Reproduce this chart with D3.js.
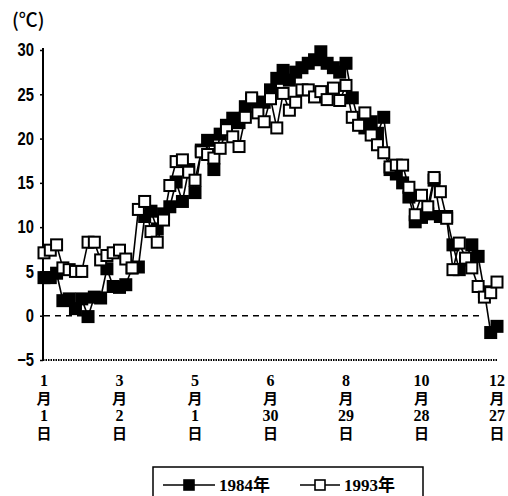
<!DOCTYPE html>
<html>
<head>
<meta charset="utf-8">
<script src="https://cdn.jsdelivr.net/npm/d3@7"></script>
<style>
  body { margin: 0; background: #fff; }
  svg { display: block; }
</style>
</head>
<body>
<div id="chart"></div>
<script>
// pentad index (every 5 days from Jan 1)
const series1984 = [4.3, 4.3, 4.8, 1.7, 1.9, 0.8, 1.9, -0.1, 2.1, 2.0,
  5.3, 3.3, 3.2, 3.5, 5.4, 5.5, 11.2, 11.8, 9.8, 11.5,
  12.3, 15.1, 12.9, 16.5, 13.9, 18.7, 19.8, 16.5, 20.5, 21.5,
  22.3, 21.8, 23.6, 24.4, 24.1, 24.1, 25.5, 26.8, 27.7, 26.6,
  27.5, 28.0, 28.5, 28.9, 29.8, 28.5, 28.0, 27.5, 28.5, 24.6,
  22.0, 21.2, 21.9, 20.6, 22.4, 16.5, 16.0, 15.0, 13.4, 10.6,
  11.1, 11.5, 15.3, 11.2, 11.2, 8.0, 5.2, 6.3, 8.0, 6.7,
  2.7, -1.9, -1.2];
const series1993 = [7.1, 7.4, 8.0, 5.4, 5.2, 5.0, 5.0, 8.3, 8.3, 6.3,
  6.8, 7.1, 7.4, 6.4, 5.4, 12.0, 12.9, 9.5, 8.3, 10.8,
  14.7, 17.4, 17.6, 16.2, 15.3, 18.5, 18.2, 17.8, 18.9, 21.0,
  20.2, 19.1, 22.4, 24.6, 22.9, 21.9, 24.5, 21.2, 25.1, 23.2,
  24.1, 25.5, 25.5, 24.7, 25.3, 24.4, 25.7, 24.3, 26.0, 22.4,
  21.5, 22.9, 20.4, 19.3, 18.4, 16.8, 17.0, 17.0, 14.5, 11.4,
  13.6, 12.3, 15.6, 14.0, 11.0, 5.2, 8.2, 6.5, 5.4, 3.3,
  2.1, 2.6, 3.8];
const yTicks = [30, 25, 20, 15, 10, 5, 0, -5];
const xTickIdx = [0, 12, 24, 36, 48, 60, 72];
const xTickLabels = [["1", "月", "1", "日"], ["3", "月", "2", "日"], ["5", "月", "1", "日"],
  ["6", "月", "30", "日"], ["8", "月", "29", "日"], ["10", "月", "28", "日"], ["12", "月", "27", "日"]];
const legendNames = ["1984年", "1993年"];

const W = 508, H = 496;
const svg = d3.select("#chart").append("svg")
  .attr("width", W).attr("height", H);

const x = d3.scaleLinear().domain([0, 72]).range([44, 497]);
const y = d3.scaleLinear().domain([-5, 30]).range([360, 50]);

const numFont = "'Liberation Sans', 'DejaVu Sans', sans-serif";
const serifFont = "'Liberation Serif', 'Noto Sans CJK SC', serif";
const cjkFont = "'Noto Sans CJK SC', sans-serif";

// unit
svg.append("text").attr("x", 12).attr("y", 27)
  .style("font-family", cjkFont).style("font-size", "19px").style("font-weight", "500")
  .text("(℃)");

// y axis
const sx = 0.82;
const yAxis = d3.axisLeft(y).tickValues(yTicks).tickSize(3)
  .tickFormat(d => d < 0 ? "\u2212" + Math.abs(d) : d);
const gy = svg.append("g").attr("transform", "translate(43,0)").call(yAxis);
gy.select(".domain").attr("stroke", "#000").attr("stroke-width", 2).attr("d", "M0,48V360");
gy.selectAll(".tick line").attr("stroke", "#000").attr("stroke-width", 1.5);
gy.selectAll(".tick text")
  .attr("x", -9 / sx)
  .attr("transform", `scale(${sx},1)`)
  .style("font-family", numFont).style("font-weight", "bold").style("font-size", "18px")
  .attr("fill", "#000");

// x axis (dotted baseline)
svg.append("line")
  .attr("x1", 43).attr("x2", 498).attr("y1", y(-5)).attr("y2", y(-5))
  .attr("stroke", "#000").attr("stroke-width", 2).attr("stroke-dasharray", "1.5,1");

// stacked (vertical) date labels, one text per tick
xTickIdx.forEach((idx, k) => {
  const t = svg.append("text")
    .attr("transform", `translate(${x(idx)},386)`)
    .attr("text-anchor", "middle")
    .style("font-weight", "bold");
  xTickLabels[k].forEach((s, j) => {
    t.append("tspan")
      .attr("x", 0).attr("y", j * 17.5)
      .style("font-family", j % 2 === 0 ? serifFont : cjkFont)
      .style("font-size", j % 2 === 0 ? "16px" : "15px")
      .text(s);
  });
});

// zero line
svg.append("line")
  .attr("x1", 44).attr("x2", 484).attr("y1", y(0)).attr("y2", y(0))
  .attr("stroke", "#000").attr("stroke-width", 1.5).attr("stroke-dasharray", "6,5");

const line = d3.line().x((d, i) => x(i)).y(d => y(d));
const ms = 11;

function drawSeries(data, filled) {
  svg.append("path").datum(data)
    .attr("fill", "none").attr("stroke", "#000").attr("stroke-width", 1.6)
    .attr("d", line);
  svg.append("g").selectAll("rect").data(data).join("rect")
    .attr("x", (d, i) => x(i) - ms / 2)
    .attr("y", d => y(d) - ms / 2)
    .attr("width", ms).attr("height", ms)
    .attr("fill", filled ? "#000" : "#fff")
    .attr("stroke", "#000").attr("stroke-width", 2);
}
drawSeries(series1984, true);
drawSeries(series1993, false);

// legend
const lg = svg.append("g");
lg.append("rect").attr("x", 153).attr("y", 467).attr("width", 270).attr("height", 40)
  .attr("fill", "none").attr("stroke", "#000").attr("stroke-width", 1.5);
const items = [{ x0: 163, x1: 215, tx: 219, filled: true }, { x0: 300, x1: 340, tx: 344, filled: false }];
items.forEach((it, k) => {
  const cy = 485;
  lg.append("line").attr("x1", it.x0).attr("x2", it.x1).attr("y1", cy).attr("y2", cy)
    .attr("stroke", "#000").attr("stroke-width", 1.6);
  const cx = (it.x0 + it.x1) / 2;
  lg.append("rect").attr("x", cx - 5).attr("y", cy - 5).attr("width", 10).attr("height", 10)
    .attr("fill", it.filled ? "#000" : "#fff").attr("stroke", "#000").attr("stroke-width", 1.6);
  lg.append("text").attr("x", it.tx).attr("y", cy + 6)
    .style("font-family", serifFont).style("font-size", "17px").style("font-weight", "bold")
    .text(legendNames[k]);
});
</script>
</body>
</html>
